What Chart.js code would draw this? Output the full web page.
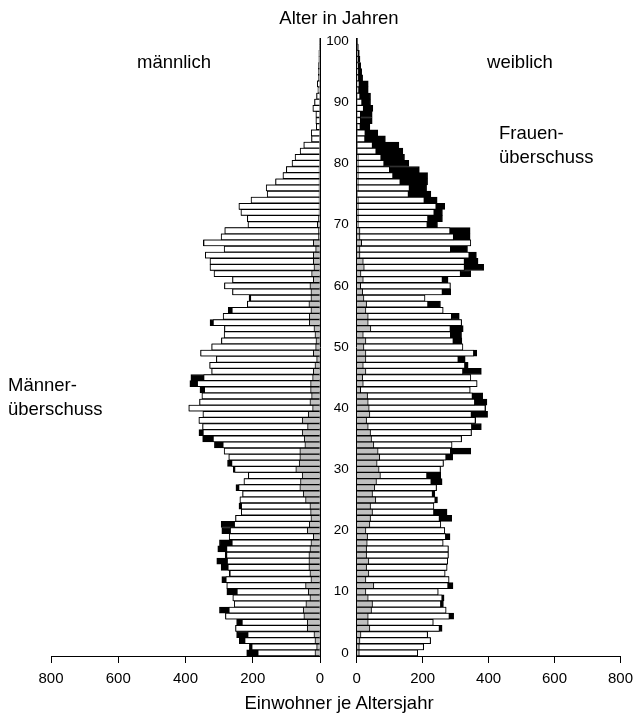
<!DOCTYPE html>
<html>
<head>
<meta charset="utf-8">
<title>Bevölkerungspyramide</title>
<script src="https://cdn.jsdelivr.net/npm/chart.js@4.4.1/dist/chart.umd.min.js"></script>
<style>
  html, body { margin: 0; padding: 0; background: #fff; }
  #wrap { position: relative; width: 640px; height: 716px; overflow: hidden;
          font-family: "Liberation Sans", Arial, sans-serif; color: #000; }
  #wrap canvas { position: absolute; top: 0; }
  .t { position: absolute; font-size: 18.5px; line-height: 24px; white-space: nowrap; }
  .c { transform: translateX(-50%); }
</style>
</head>
<body>
<div id="wrap">
  <canvas id="male" width="330" height="716" style="left:0"></canvas>
  <canvas id="female" width="316" height="716" style="left:324px"></canvas>
  <div class="t c" style="left:339px; top:6px">Alter in Jahren</div>
  <div class="t c" style="left:174px; top:50px">männlich</div>
  <div class="t c" style="left:520px; top:50px">weiblich</div>
  <div class="t" style="left:499px; top:121px">Frauen-<br>überschuss</div>
  <div class="t" style="left:8px; top:373px">Männer-<br>überschuss</div>
  <div class="t c" style="left:339px; top:691px">Einwohner je Altersjahr</div>
</div>
<script>
// Altersjahre 0 bis 100
const ages = Array.from({ length: 101 }, (_, i) => String(i));

// Männer insgesamt je Altersjahr (Alter 0 ... 100)
const maleTotal = [
  218, 210, 240, 248, 251, 248, 281, 299, 255, 259,
  277, 277, 292, 270, 294, 307, 282, 304, 299, 270,
  292, 294, 251, 234, 241, 238, 230, 250, 226, 213,
  258, 275, 271, 285, 314, 349, 360, 349, 360, 348,
  390, 358, 351, 357, 387, 384, 322, 328, 308, 355,
  322, 293, 285, 284, 327, 288, 273, 216, 211, 260,
  284, 260, 315, 327, 327, 341, 285, 347, 294, 283,
  214, 216, 235, 241, 205, 157, 160, 132, 110, 100,
  83, 74, 59, 48, 25, 26, 11, 12, 12, 21,
  16, 10, 6, 8, 5, 5, 4, 3, 3, 2,
  2
];

// Frauen insgesamt je Altersjahr (Alter 0 ... 100)
const femaleTotal = [
  185, 203, 224, 215, 259, 232, 294, 271, 263, 265,
  247, 292, 280, 268, 274, 276, 278, 278, 262, 283,
  267, 255, 288, 274, 234, 245, 237, 242, 259, 255,
  254, 263, 291, 346, 289, 318, 348, 378, 361, 397,
  391, 395, 382, 344, 365, 346, 378, 338, 329, 364,
  322, 319, 318, 323, 318, 311, 262, 254, 207, 285,
  284, 277, 346, 385, 368, 363, 336, 346, 344, 344,
  245, 260, 260, 267, 244, 225, 212, 215, 215, 190,
  158, 145, 140, 128, 87, 64, 40, 47, 47, 49,
  42, 42, 35, 35, 18, 15, 12, 10, 8, 5,
  3
];

// davon Ausländer, männlich
const maleForeign = [
  15, 10, 15, 18, 38, 38, 48, 50, 42, 30,
  35, 43, 27, 30, 33, 33, 33, 30, 27, 20,
  38, 32, 27, 28, 30, 43, 50, 60, 58, 53,
  72, 62, 60, 60, 45, 47, 53, 37, 53, 35,
  22, 30, 25, 28, 28, 22, 20, 15, 10, 20,
  13, 12, 15, 18, 32, 32, 27, 33, 27, 27,
  30, 20, 25, 18, 20, 20, 13, 20, 5, 5,
  8, 5, 3, 3, 3, 3, 3, 3, 3, 3,
  2, 2, 2, 2, 1, 1, 1, 1, 1, 1,
  1, 0, 0, 0, 0, 0, 0, 0, 0, 0,
  0
];

// davon Ausländerinnen
const femaleForeign = [
  8, 8, 10, 13, 40, 35, 35, 45, 48, 35,
  28, 52, 28, 37, 30, 37, 30, 30, 32, 33,
  28, 40, 42, 48, 42, 58, 48, 55, 60, 72,
  68, 62, 70, 65, 52, 45, 42, 35, 30, 40,
  38, 35, 33, 12, 20, 18, 28, 20, 28, 28,
  22, 28, 20, 43, 35, 35, 28, 30, 22, 18,
  12, 20, 13, 23, 20, 10, 10, 15, 10, 10,
  5, 5, 5, 5, 5, 2, 5, 5, 5, 5,
  5, 5, 3, 3, 2, 2, 2, 1, 1, 1,
  1, 1, 0, 0, 0, 0, 0, 0, 0, 0,
  0
];

// Achsenbeschriftung
const xTicks = [0, 200, 400, 600, 800];
const ageTickStep = 10;

// gemeinsamer Teil beider Geschlechter (weißer Balken)
const common = maleTotal.map((m, i) => Math.min(m, femaleTotal[i]));

const FONT = "'Liberation Sans', Arial, sans-serif";

function barSet(data, fill, order) {
  return {
    data: data,
    backgroundColor: fill,
    borderColor: '#000',
    borderWidth: 1,
    borderSkipped: 'start',
    grouped: false,
    barPercentage: 1,
    categoryPercentage: 1,
    order: order
  };
}

function makeChart(id, total, foreign, isMale) {
  return new Chart(document.getElementById(id), {
    type: 'bar',
    data: {
      labels: ages,
      datasets: [
        barSet(foreign, '#c0c0c0', 0),
        barSet(common, '#ffffff', 1),
        barSet(total, '#000000', 2)
      ]
    },
    options: {
      indexAxis: 'y',
      responsive: false,
      animation: false,
      events: [],
      layout: {
        padding: isMale
          ? { left: 51, right: 10, top: 38, bottom: 20 }
          : { left: 0.7, right: 13.3, top: 38, bottom: 20 }
      },
      plugins: { legend: { display: false }, tooltip: { enabled: false } },
      scales: {
        x: {
          type: 'linear',
          position: 'bottom',
          min: 0,
          max: 800,
          reverse: isMale,
          afterBuildTicks: s => { s.ticks = xTicks.map(v => ({ value: v })); },
          afterFit: s => { s.height = 40; },
          ticks: { color: '#000', font: { family: FONT, size: 15 }, padding: 7, maxRotation: 0 },
          grid: { drawOnChartArea: false, drawTicks: true, tickLength: 7, color: '#000', lineWidth: 1 },
          border: { display: true, color: '#000', width: 1 }
        },
        y: {
          type: 'category',
          reverse: true,
          position: isMale ? 'right' : 'left',
          afterFit: s => { s.width = isMale ? 0 : 32; },
          ticks: {
            display: !isMale,
            autoSkip: false,
            color: '#000',
            font: { family: FONT, size: 13.5 },
            padding: 8,
            callback: function (v) {
              const a = Number(this.getLabelForValue(v));
              return a % ageTickStep === 0 ? String(a) : '';
            }
          },
          grid: { drawOnChartArea: false, drawTicks: false },
          border: { display: true, color: '#000', width: 1 }
        }
      }
    }
  });
}

makeChart('male', maleTotal, maleForeign, true);
makeChart('female', femaleTotal, femaleForeign, false);
</script>
</body>
</html>
